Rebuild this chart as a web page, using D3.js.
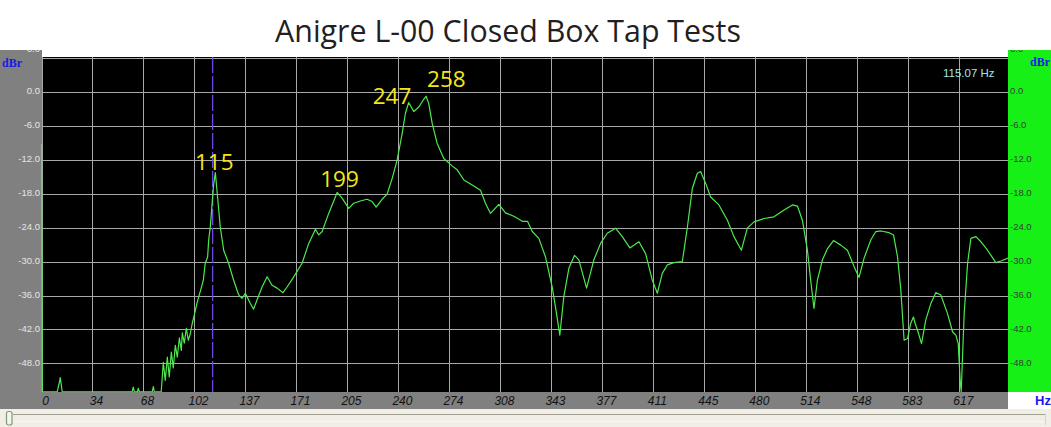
<!DOCTYPE html>
<html><head><meta charset="utf-8">
<script src="https://cdn.jsdelivr.net/npm/d3@7/dist/d3.min.js"></script>
<style>
html,body{margin:0;padding:0;background:#fff;overflow:hidden}
svg{display:block}
</style></head>
<body>
<script>
// ---- data ----
const title = "Anigre L-00 Closed Box Tap Tests";
const freqHz = [0,0.5,10.6,11.9,12.6,13.3,13.9,61.0,61.7,62.4,64.5,65.1,65.8,74.5,75.2,75.8,80.5,81.9,83.2,84.6,85.9,87.3,88.6,90.0,91.3,92.7,94.0,94.7,96.0,97.4,98.7,100.0,101.4,102.7,104.6,106.1,107.9,108.8,110.1,111.7,112.4,113.5,114.9,115.7,116.9,118.4,120.2,122.5,125.8,129.2,132.6,134.8,137.1,138.2,140.4,142.6,144.9,148.3,151.7,155.0,158.4,162.4,165.1,169.6,175.2,179.7,184.2,186.4,188.7,193.1,198.8,202.1,206.6,209.9,214.4,218.9,222.3,225.0,229.0,232.4,235.8,239.1,242.5,244.7,246.9,250.3,253.7,256.6,258.6,260.4,262.7,266.0,270.5,276.1,279.5,284.0,288.5,295.2,298.5,301.9,307.5,312.0,317.6,323.3,326.8,330.0,334.4,338.9,343.4,346.3,348.5,351.2,354.6,358.4,361.3,366.5,371.4,375.9,380.4,386.0,390.5,395.6,401.7,406.2,410.7,414.1,417.4,420.8,425.2,430.9,434.3,437.6,441.0,443.2,446.6,449.9,455.5,461.2,465.6,470.6,474.6,479.1,485.8,492.5,499.3,504.9,508.3,511.6,515.0,517.2,519.4,521.7,525.1,528.5,532.5,537.4,541.9,546.4,549.7,553.1,557.6,561.0,564.4,569.9,572.9,575.6,577.8,580.0,582.3,584.5,586.3,587.4,589.0,591.7,594.6,598.0,601.3,604.7,609.2,612.6,614.8,616.4,617.7,618.4,619.2,620.4,622.7,624.9,628.3,631.6,636.1,641.7,645.1,650];
const levelDb = [-9.2,-53,-53,-51.5,-50.5,-51.8,-53,-53,-52.2,-53,-53,-52.4,-53,-53,-52.1,-53,-53,-47.8,-51.0,-46.9,-50.4,-46.0,-48.8,-44.8,-46.9,-43.5,-45.7,-42.6,-44.4,-41.8,-43.9,-42.8,-40.9,-39.5,-37.3,-35.9,-34.2,-33.3,-30.3,-29.2,-26.2,-23.9,-19.1,-16.5,-14.3,-18.6,-23.9,-28.0,-30.3,-33.3,-35.9,-36.5,-35.6,-36.2,-37.4,-38.4,-36.8,-34.5,-32.7,-34.2,-34.7,-35.5,-34.5,-32.7,-30.3,-26.8,-24.3,-25.3,-24.7,-21.5,-17.8,-18.8,-20.6,-19.7,-19.3,-19.0,-19.4,-20.4,-19.0,-18.1,-15.3,-12.1,-7.4,-3.8,-1.9,-3.5,-2.7,-1.5,-0.8,-2.1,-5.6,-9.1,-11.8,-13.1,-13.8,-15.6,-16.3,-17.4,-19.7,-21.5,-19.9,-21.4,-22.0,-22.9,-22.9,-24.7,-25.9,-29.2,-34.5,-39.2,-43.0,-36.2,-31.2,-28.9,-29.7,-34.7,-29.7,-26.8,-25.0,-24.1,-25.6,-27.6,-26.5,-28.6,-33.3,-35.6,-32.1,-30.6,-30.2,-30.0,-23.9,-17.1,-14.4,-14.1,-16.2,-18.6,-20.0,-22.7,-25.6,-28.0,-24.1,-23.0,-22.4,-22.1,-20.9,-20.0,-20.2,-22.7,-28.0,-33.3,-38.3,-33.3,-29.7,-27.7,-26.3,-27.1,-28.0,-30.9,-32.8,-29.4,-26.2,-24.7,-24.6,-24.9,-25.3,-29.2,-35.0,-43.9,-43.6,-40.9,-39.8,-40.9,-42.1,-44.5,-40.3,-37.4,-35.5,-35.9,-39.2,-42.4,-43.0,-44.5,-51.0,-53.0,-47.4,-39.2,-30.3,-25.9,-25.6,-26.5,-28.0,-30.2,-29.9,-29.4];
const xTickValues = [0,34.29,68.57,102.86,137.14,171.43,205.71,240,274.29,308.57,342.86,377.14,411.43,445.71,480,514.29,548.57,582.86,617.14];
const xTickLabels = ["0","34","68","102","137","171","205","240","274","308","343","377","411","445","480","514","548","583","617"];
const yTickValues = [6,0,-6,-12,-18,-24,-30,-36,-42,-48];
const yTickLabels = ["6.0","0.0","-6.0","-12.0","-18.0","-24.0","-30.0","-36.0","-42.0","-48.0"];
const peakLabels = ["115","199","247","258"];
const peakLabelHz = [116.2,200.4,235.7,272.2];
const peakLabelDb = [-13.8,-16.8,-2.2,0.9];
const cursorHz = 115.07;
const cursorText = "115.07 Hz";

// ---- layout ----
const W = 1051, H = 427;
const svg = d3.select("body").append("svg").attr("width", W).attr("height", H);
const x = d3.scaleLinear().domain([0, 650]).range([41.5, 1008.2]);
const y = d3.scaleLinear().domain([6, -53.1]).range([57.75, 392.3]);

svg.append("rect").attr("width", W).attr("height", H).attr("fill", "#fff");

// left gray panel + bottom band
svg.append("rect").attr("x", 0).attr("y", 50).attr("width", 42).attr("height", 359).attr("fill", "#808080");
svg.append("rect").attr("x", 0).attr("y", 392).attr("width", 1008).attr("height", 17).attr("fill", "#808080");
// right green panel
svg.append("rect").attr("x", 1008).attr("y", 50).attr("width", 43).attr("height", 342).attr("fill", "#16f016");
// plot
svg.append("rect").attr("x", 42).attr("y", 57).attr("width", 966).attr("height", 335).attr("fill", "#000");

svg.append("defs").append("clipPath").attr("id", "pc")
  .append("rect").attr("x", 41).attr("y", 57).attr("width", 967).attr("height", 335.5);

const g = svg.append("g").attr("clip-path", "url(#pc)");

// grid
g.append("g").selectAll("line").data(xTickValues).join("line")
  .attr("x1", d => Math.round(x(d)) + 0.5).attr("x2", d => Math.round(x(d)) + 0.5)
  .attr("y1", 57).attr("y2", 392).attr("stroke", "#a8a8a8").attr("stroke-width", 1);
g.append("g").selectAll("line").data(yTickValues).join("line")
  .attr("x1", 42).attr("x2", 1008)
  .attr("y1", d => Math.round(y(d)) + 0.5).attr("y2", d => Math.round(y(d)) + 0.5)
  .attr("stroke", "#a8a8a8").attr("stroke-width", 1);

// cursor
g.append("line").attr("x1", x(cursorHz)).attr("x2", x(cursorHz)).attr("y1", 57).attr("y2", 392)
  .attr("stroke", "#7048e8").attr("stroke-width", 1.3).attr("stroke-dasharray", "16,3");

// curve
const pts = freqHz.map((f, i) => [f, levelDb[i]]);
const line = d3.line().x(d => x(d[0])).y(d => y(d[1]));
g.append("path").datum(pts).attr("d", line).attr("fill", "none")
  .attr("stroke", "#4cea4c").attr("stroke-width", 1.2).attr("stroke-linejoin", "round");

// y labels (top one sits mostly under the title strip)
const labY = (d, i) => (i === 0 ? y(d) - 9 : y(d) - 1);
svg.append("g").selectAll("text").data(yTickValues).join("text")
  .attr("x", 40).attr("y", labY).attr("dy", "0.35em").attr("text-anchor", "end")
  .attr("font-family", "Liberation Sans, Arial, sans-serif").attr("font-size", 9.5)
  .attr("fill", "#e6e6e6").text((d, i) => yTickLabels[i]);
svg.append("g").selectAll("text").data(yTickValues).join("text")
  .attr("x", 1010).attr("y", labY).attr("dy", "0.35em").attr("text-anchor", "start")
  .attr("font-family", "Liberation Sans, Arial, sans-serif").attr("font-size", 9.5)
  .attr("fill", "#3a3a3a").text((d, i) => yTickLabels[i]);

// cover above panels
svg.append("rect").attr("x", 0).attr("y", 0).attr("width", W).attr("height", 50).attr("fill", "#fff");

// dBr labels
svg.append("text").attr("x", 2).attr("y", 67).attr("font-family", "Liberation Serif, Times New Roman, serif")
  .attr("font-weight", "bold").attr("font-size", 12).attr("fill", "#1a1ae0").text("dBr");
svg.append("text").attr("x", 1030).attr("y", 66).attr("font-family", "Liberation Serif, Times New Roman, serif")
  .attr("font-weight", "bold").attr("font-size", 12).attr("fill", "#1a1ae0").text("dBr");

// x labels
svg.append("g").selectAll("text").data(xTickValues).join("text")
  .attr("x", d => x(d) + 4).attr("y", 405).attr("text-anchor", "middle")
  .attr("font-family", "Liberation Sans, Arial, sans-serif").attr("font-style", "italic")
  .attr("font-size", 12).attr("fill", "#111").text((d, i) => xTickLabels[i]);
svg.append("text").attr("x", 1035).attr("y", 405).attr("font-family", "Liberation Sans, Arial, sans-serif")
  .attr("font-weight", "bold").attr("font-size", 13).attr("fill", "#1818f0").text("Hz");

// cursor readout
svg.append("text").attr("x", 943).attr("y", 76.5).attr("font-family", "Liberation Sans, Arial, sans-serif")
  .attr("font-size", 11.5).attr("fill", "#9ee6ea").text(cursorText);

// peak annotations
svg.append("g").selectAll("text").data(peakLabelHz).join("text")
  .attr("x", d => x(d)).attr("y", (d, i) => y(peakLabelDb[i]))
  .attr("text-anchor", "middle").attr("font-family", "Open Sans, sans-serif")
  .attr("font-size", 22.5).attr("fill", "#f5e61c").text((d, i) => peakLabels[i]);

// scrollbar strip
svg.append("rect").attr("x", 0).attr("y", 409).attr("width", W).attr("height", 18).attr("fill", "#f1efe5");
svg.append("line").attr("x1", 13).attr("x2", 1045).attr("y1", 414.5).attr("y2", 414.5).attr("stroke", "#a39f95");
svg.append("line").attr("x1", 13).attr("x2", 1045).attr("y1", 421.5).attr("y2", 421.5).attr("stroke", "#f8f7f2");
svg.append("line").attr("x1", 1045.5).attr("x2", 1045.5).attr("y1", 414).attr("y2", 425).attr("stroke", "#d8d4c8");
svg.append("rect").attr("x", 6.5).attr("y", 411.5).attr("width", 5.5).attr("height", 13.5).attr("rx", 2)
  .attr("fill", "#f4f4f0").attr("stroke", "#7e9a7e").attr("stroke-width", 1.2);

// title
const t = svg.append("text").attr("x", 508).attr("y", 42).attr("text-anchor", "middle")
  .attr("font-family", "Open Sans, sans-serif").attr("font-size", 30).attr("fill", "#231f20").text(title);
const w = t.node().getComputedTextLength();
t.attr("font-size", 30 * 466 / w);
</script>
</body></html>
